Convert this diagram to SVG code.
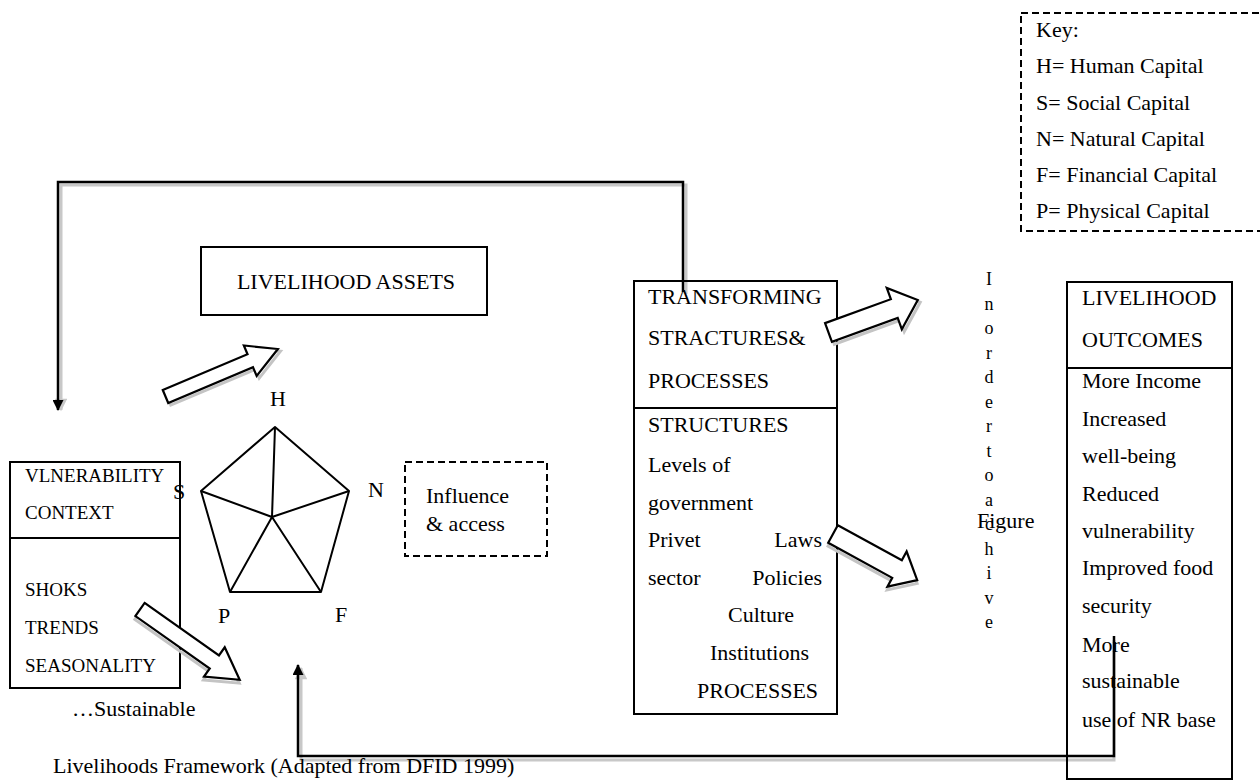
<svg xmlns="http://www.w3.org/2000/svg" width="1260" height="783" viewBox="0 0 1260 783">
<style>
  .box{fill:none;stroke:#000;stroke-width:2}
  .dash{fill:none;stroke:#000;stroke-width:2;stroke-dasharray:7 4}
  .cam{font-family:"Liberation Serif","Times New Roman",serif;font-size:22px;fill:#000}
  .vul{font-family:"Liberation Serif","Times New Roman",serif;font-size:19px;fill:#000}
  .tnr{font-family:"Liberation Serif","Times New Roman",serif;font-size:22px;fill:#000}
  .vt{font-family:"Liberation Serif","Times New Roman",serif;font-size:18px;fill:#000;text-anchor:middle}
  .conn{fill:none;stroke:#000;stroke-width:2.5}
  .shadow{fill:none;stroke:#c8c8c8;stroke-width:3}
  .blk{fill:#fff;stroke:#000;stroke-width:2.2;stroke-linejoin:miter}
  .blks{fill:none;stroke:#c4c4c4;stroke-width:3}
  .pent{fill:none;stroke:#000;stroke-width:2;stroke-linejoin:round}
</style>
<defs>
  <marker id="ah" viewBox="0 0 10 10" refX="9" refY="5" markerWidth="5.6" markerHeight="4.4" orient="auto" markerUnits="strokeWidth">
    <path d="M0,0 L10,5 L0,10 z" fill="#000"/>
  </marker>
  <marker id="ahs" viewBox="0 0 10 10" refX="9" refY="5" markerWidth="5.2" markerHeight="4.2" orient="auto" markerUnits="strokeWidth">
    <path d="M0,0 L10,5 L0,10 z" fill="#c8c8c8"/>
  </marker>
</defs>
<rect width="1260" height="783" fill="#fff"/>

<g id="connectors">
  <path class="shadow" d="M686,294 V185 H61 V410" marker-end="url(#ahs)"/>
  <path class="conn" d="M683,292 V182 H58 V410" marker-end="url(#ah)"/>
  <path class="shadow" d="M1114,640 V760 H301 V668" marker-end="url(#ahs)"/>
  <path class="conn" d="M1114,636 V756 H298 V665" marker-end="url(#ah)"/>
</g>

<g id="key">
  <rect class="dash" x="1021" y="13" width="260" height="218"/>
  <text class="cam" x="1036" y="37">Key:</text>
  <text class="cam" x="1036" y="73">H= Human Capital</text>
  <text class="cam" x="1036" y="110">S= Social Capital</text>
  <text class="cam" x="1036" y="146">N= Natural Capital</text>
  <text class="cam" x="1036" y="182">F= Financial Capital</text>
  <text class="cam" x="1036" y="218">P= Physical Capital</text>
</g>

<g id="livelihood-assets">
  <rect class="box" x="201" y="247" width="286" height="68"/>
  <text class="tnr" x="346" y="289" text-anchor="middle" font-size="23">LIVELIHOOD ASSETS</text>
</g>

<g id="vulnerability-context">
  <rect class="box" x="10" y="462" width="170" height="226"/>
  <line class="box" x1="10" y1="538" x2="180" y2="538"/>
  <text class="vul" x="25" y="482">VLNERABILITY</text>
  <text class="vul" x="25" y="519">CONTEXT</text>
  <text class="vul" x="25" y="596">SHOKS</text>
  <text class="vul" x="25" y="634">TRENDS</text>
  <text class="vul" x="25" y="672">SEASONALITY</text>
</g>

<g id="asset-pentagon">
  <polygon class="pent" points="275,427 349,491 321,592 230,592 201,491"/>
  <path class="pent" d="M272,517 L275,427 M272,517 L349,491 M272,517 L321,592 M272,517 L230,592 M272,517 L201,491"/>
  <text class="tnr" x="270" y="406">H</text>
  <text class="tnr" x="173" y="499">S</text>
  <text class="tnr" x="368" y="497">N</text>
  <text class="tnr" x="218" y="623">P</text>
  <text class="tnr" x="335" y="622">F</text>
</g>

<g id="influence-access">
  <rect class="dash" x="405" y="462" width="142" height="94"/>
  <text class="tnr" x="426" y="503" font-size="23">Influence</text>
  <text class="tnr" x="426" y="531" font-size="23">&amp; access</text>
</g>

<g id="transforming-structures">
  <rect class="box" x="634" y="281" width="203" height="433"/>
  <line class="box" x1="634" y1="408" x2="837" y2="408"/>
  <text class="cam" x="648" y="304">TRANSFORMING</text>
  <text class="cam" x="648" y="345">STRACTURES&amp;</text>
  <text class="cam" x="648" y="388">PROCESSES</text>
  <text class="cam" x="648" y="432">STRUCTURES</text>
  <text class="cam" x="648" y="472">Levels of</text>
  <text class="cam" x="648" y="510">government</text>
  <text class="cam" x="648" y="547">Privet</text>
  <text class="cam" x="822" y="547" text-anchor="end">Laws</text>
  <text class="cam" x="648" y="585">sector</text>
  <text class="cam" x="822" y="585" text-anchor="end">Policies</text>
  <text class="cam" x="728" y="622">Culture</text>
  <text class="cam" x="710" y="660">Institutions</text>
  <text class="cam" x="697" y="698">PROCESSES</text>
</g>

<g id="vertical-text">
  <text class="vt" x="989" y="285">I</text>
  <text class="vt" x="989" y="309.5">n</text>
  <text class="vt" x="989" y="334">o</text>
  <text class="vt" x="989" y="358.5">r</text>
  <text class="vt" x="989" y="383">d</text>
  <text class="vt" x="989" y="407.5">e</text>
  <text class="vt" x="989" y="432">r</text>
  <text class="vt" x="989" y="456.5">t</text>
  <text class="vt" x="989" y="481">o</text>
  <text class="vt" x="989" y="505.5">a</text>
  <text class="vt" x="989" y="530">c</text>
  <text class="vt" x="989" y="554.5">h</text>
  <text class="vt" x="989" y="579">i</text>
  <text class="vt" x="989" y="603.5">v</text>
  <text class="vt" x="989" y="628">e</text>
  <text class="tnr" x="977" y="528">Figure</text>
</g>

<g id="livelihood-outcomes">
  <rect class="box" x="1067" y="282" width="165" height="497"/>
  <line class="box" x1="1067" y1="368" x2="1232" y2="368"/>
  <text class="cam" x="1082" y="305">LIVELIHOOD</text>
  <text class="cam" x="1082" y="347">OUTCOMES</text>
  <text class="cam" x="1082" y="388">More Income</text>
  <text class="cam" x="1082" y="426">Increased</text>
  <text class="cam" x="1082" y="463">well-being</text>
  <text class="cam" x="1082" y="501">Reduced</text>
  <text class="cam" x="1082" y="538">vulnerability</text>
  <text class="cam" x="1082" y="575">Improved food</text>
  <text class="cam" x="1082" y="613">security</text>
  <text class="cam" x="1082" y="652">More</text>
  <text class="cam" x="1082" y="688">sustainable</text>
  <text class="cam" x="1082" y="727">use of NR base</text>
</g>

<g id="block-arrows">
  <g transform="translate(165.5,396.5) rotate(-22.9)">
    <polygon class="blks" transform="translate(1.5,3)" points="0,-7 92,-7 92,-16.5 122,0 92,16.5 92,7 0,7"/>
    <polygon class="blk" points="0,-7 92,-7 92,-16.5 122,0 92,16.5 92,7 0,7"/>
  </g>
  <g transform="translate(140,609.5) rotate(35.2)">
    <polygon class="blks" transform="translate(1.5,3)" points="0,-8 91,-8 91,-18 122,0 91,18 91,8 0,8"/>
    <polygon class="blk" points="0,-8 91,-8 91,-18 122,0 91,18 91,8 0,8"/>
  </g>
  <g transform="translate(828.5,332.5) rotate(-20)">
    <polygon class="blks" transform="translate(1.5,3)" points="0,-10 70,-10 70,-22 95,0 70,22 70,10 0,10"/>
    <polygon class="blk" points="0,-10 70,-10 70,-22 95,0 70,22 70,10 0,10"/>
  </g>
  <g transform="translate(833,534) rotate(28.7)">
    <polygon class="blks" transform="translate(1.5,3)" points="0,-10 73,-10 73,-20 96,0 73,20 73,10 0,10"/>
    <polygon class="blk" points="0,-10 73,-10 73,-20 96,0 73,20 73,10 0,10"/>
  </g>
</g>

<g id="caption">
  <text class="tnr" x="72" y="716">…Sustainable</text>
  <text class="tnr" x="53" y="773" font-size="20.5">Livelihoods Framework (Adapted from DFID 1999)</text>
</g>
</svg>
